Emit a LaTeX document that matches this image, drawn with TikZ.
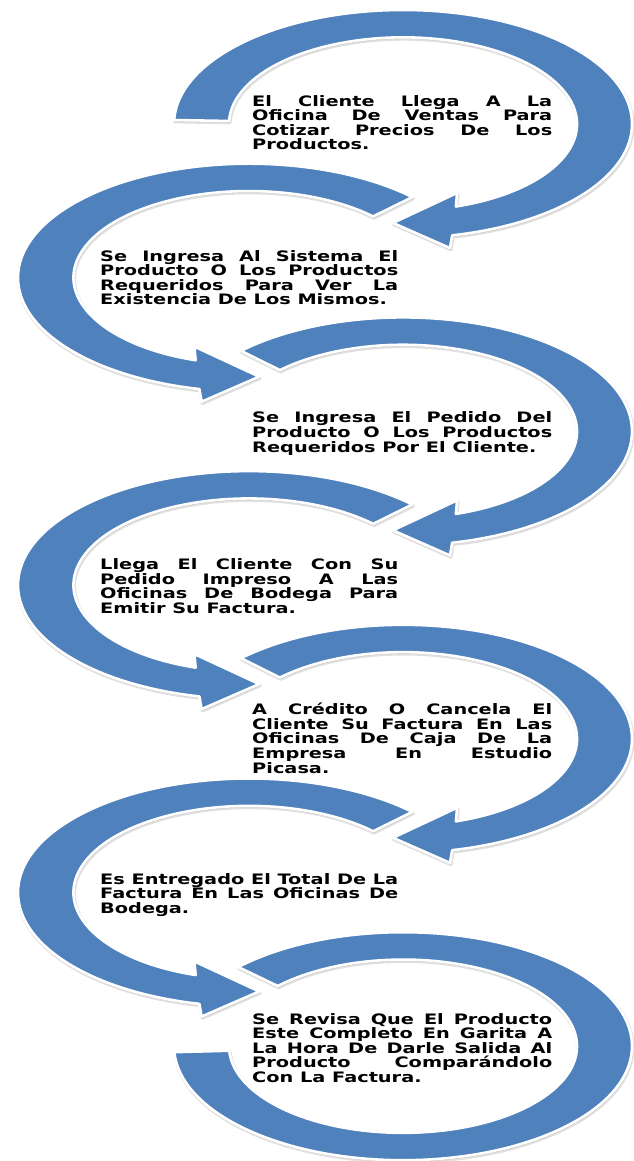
\documentclass[tikz,border=0pt]{standalone}
\usepackage{fontspec}
\newfontfamily\labelfont[FakeStretch=1.34]{DejaVu Sans Bold}
\definecolor{ringblue}{RGB}{79,129,189}
% justified lines for the right-hand and left-hand text blocks
\newcommand\rj[1]{\makebox[9cm][s]{#1}}
\newcommand\lj[1]{\makebox[8.94cm][s]{#1}}
\tikzset{
  ringhead/.style={insert path={(#1:1) arc[start angle=#1, end angle=-77.6, radius=1]
      -- (0.205,-1.088) -- (-0.044,-0.868) -- (0.236,-0.605)
      -- (-72.3:0.76) arc[start angle=-72.3, end angle=#1, radius=0.76] -- cycle}},
  ringopen/.style={insert path={(136:1) arc[start angle=136, end angle=-177, radius=1]
      -- (-177:0.76) arc[start angle=-177, end angle=136, radius=0.76] -- cycle}},
  ringfill/.style={fill=ringblue, draw=white, line width=2.2pt, line join=round},
  ringshadow/.style={fill=black, draw=black, line width=3pt, opacity=0.12, line join=round},
  steptext/.style={anchor=north west, inner sep=0pt, align=left, text=black,
      font=\labelfont\fontsize{12.3pt}{12.46pt}\selectfont},
}
\begin{document}
\begin{tikzpicture}[x=0.03cm, y=-0.03cm]
\useasboundingbox (0,0) rectangle (633,1161);
\fill[white] (0,0) rectangle (633,1161);

% soft shadows under the ring arrows
\foreach \cx/\cy/\sx/\st in {403/124/229/178, 249/277.7/-231/135, 403/431.4/229/135,
    249/585.1/-231/135, 403/738.8/229/135, 249/892.5/-231/135} {
  \begin{scope}[shift={(\cx+0.8,\cy+1.6)}, xscale=\sx, yscale=-114]
    \path[ringshadow] [ringhead=\st];
  \end{scope}
}
\begin{scope}[shift={(403.8,1047.8)}, xscale=229, yscale=-114]
  \path[ringshadow] [ringopen];
\end{scope}

% ring arrows, alternating right and left
\foreach \cx/\cy/\sx/\st in {403/124/229/178, 249/277.7/-231/135, 403/431.4/229/135,
    249/585.1/-231/135, 403/738.8/229/135, 249/892.5/-231/135} {
  \begin{scope}[shift={(\cx,\cy)}, xscale=\sx, yscale=-114]
    \path[ringfill] [ringhead=\st];
  \end{scope}
}
\begin{scope}[shift={(403,1046.2)}, xscale=229, yscale=-114]
  \path[ringfill] [ringopen];
\end{scope}

% step texts
\node[steptext] (t1) at (252,95) {\rj{El Cliente Llega A La}\\\rj{Oficina De Ventas Para}\\\rj{Cotizar Precios De Los}\\Productos.};
\node[steptext] (t2) at (100,250) {\lj{Se Ingresa Al Sistema El}\\\lj{Producto O Los Productos}\\\lj{Requeridos Para Ver La}\\Existencia De Los Mismos.};
\node[steptext] (t3) at (252,411.7) {\rj{Se Ingresa El Pedido Del}\\\rj{Producto O Los Productos}\\Requeridos Por El Cliente.};
\node[steptext] (t4) at (100,558.3) {\lj{Llega El Cliente Con Su}\\\lj{Pedido Impreso A Las}\\\lj{Oficinas De Bodega Para}\\Emitir Su Factura.};
\node[steptext] (t5) at (252,703) {\rj{A Crédito O Cancela El}\\\rj{Cliente Su Factura En Las}\\\rj{Oficinas De Caja De La}\\\rj{Empresa En Estudio}\\Picasa.};
\node[steptext] (t6) at (100,873) {\lj{Es Entregado El Total De La}\\\lj{Factura En Las Oficinas De}\\Bodega.};
\node[steptext] (t7) at (252,1013) {\rj{Se Revisa Que El Producto}\\\rj{Este Completo En Garita A}\\\rj{La Hora De Darle Salida Al}\\\rj{Producto Comparándolo}\\Con La Factura.};
\end{tikzpicture}
\end{document}
